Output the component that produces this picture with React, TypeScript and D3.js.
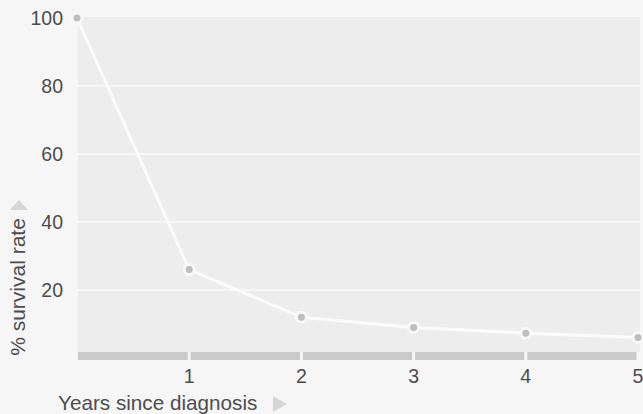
import React from "react";
import * as d3 from "d3";

const years = [0, 1, 2, 3, 4, 5];
const survival = [100, 26, 12, 9, 7.3, 6];
const yTicks = [20, 40, 60, 80, 100];
const xTicks = [1, 2, 3, 4, 5];
const xTitle = "Years since diagnosis";
const yTitle = "% survival rate";

const W = 643;
const H = 414;
const FONT = "'Liberation Sans', Arial, Helvetica, sans-serif";

export default function App() {
  const x = d3.scaleLinear().domain([0, 5]).range([77, 638]);
  const y = d3.scaleLinear().domain([0, 100]).range([358, 18]);
  const plotLeft = 78;
  const plotRight = 640;
  const plotTop = 17;
  const plotBottom = 352;
  const line = d3
    .line<number>()
    .x((_, i) => x(years[i]))
    .y((d) => y(d))(survival) as string;

  const barEdges = [plotLeft, ...xTicks.slice(0, 4).map((t) => x(t)), plotRight - 2];
  const segs = d3.pairs(barEdges);

  return (
    <div style={{ position: "fixed", left: 0, top: 0, width: W, height: H, background: "#f6f6f6" }}>
      <svg width={W} height={H} style={{ display: "block" }} fontFamily={FONT}>
        <rect x={0} y={0} width={W} height={H} fill="#f6f6f6" />
        <rect x={plotLeft} y={plotTop} width={plotRight - plotLeft} height={plotBottom - plotTop} fill="#ededed" />
        {yTicks
          .filter((t) => t < 100)
          .map((t) => (
            <line key={t} x1={plotLeft} x2={plotRight} y1={y(t)} y2={y(t)} stroke="#fafafa" strokeWidth={1.5} />
          ))}
        {segs.map(([a, b], i) => (
          <rect key={i} x={a + (i === 0 ? 0 : 1.5)} y={plotBottom} width={b - a - (i === 0 ? 1.5 : 3)} height={8} fill="#cacaca" />
        ))}
        <path d={line} fill="none" stroke="#fbfbfb" strokeWidth={3} strokeLinejoin="round" />
        {survival.map((v, i) => (
          <circle key={i} cx={x(years[i])} cy={y(v)} r={5} fill="#bebebe" stroke="#f8f8f8" strokeWidth={3} />
        ))}
        {yTicks.map((t) => (
          <text key={t} x={63} y={y(t) + 7} textAnchor="end" fontSize={19.5} fill="#4d4d4d">
            {t}
          </text>
        ))}
        {xTicks.map((t) => (
          <text key={t} x={x(t)} y={383} textAnchor="middle" fontSize={19.5} fill="#4d4d4d">
            {t}
          </text>
        ))}
        <text x={58} y={410} fontSize={20.7} fill="#4d4d4d">
          {xTitle}
        </text>
        <path d="M273,396 L287,404 L273,412 Z" fill="#d6d6d6" />
        <text
          transform={`translate(25,287) rotate(-90)`}
          textAnchor="middle"
          fontSize={21}
          fill="#4d4d4d"
        >
          {yTitle}
        </text>
        <path d="M10,210 L19,200 L28,210 Z" fill="#d6d6d6" />
      </svg>
    </div>
  );
}
